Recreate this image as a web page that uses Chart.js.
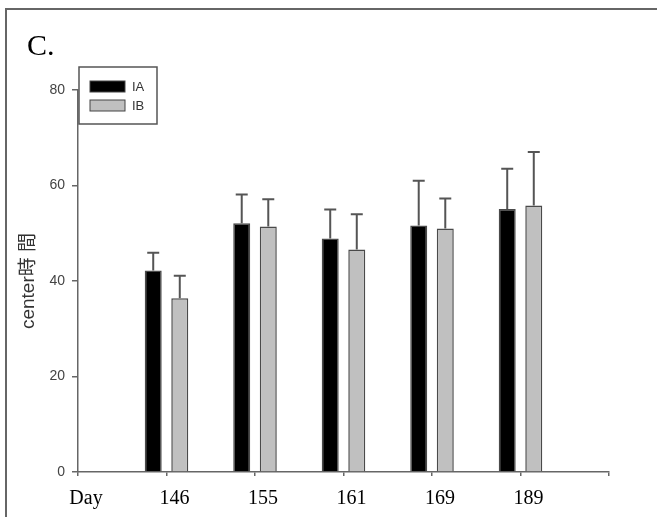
<!DOCTYPE html>
<html>
<head>
<meta charset="utf-8">
<script src="https://cdn.jsdelivr.net/npm/chart.js@4.4.1/dist/chart.umd.min.js"></script>
<style>
  html, body { margin: 0; padding: 0; background: #fff; }
</style>
</head>
<body>
<canvas id="dayChart" width="657" height="517"></canvas>
<script>
// --- dados ---
const days = ['146', '155', '161', '169', '189'];
const meanIA = [42.2, 52.1, 48.9, 51.6, 55.1];
const sdIA   = [3.7, 6.0, 6.1, 9.4, 8.4];
const meanIB = [36.4, 51.4, 46.6, 51.0, 55.8];
const sdIB   = [4.7, 5.7, 7.4, 6.3, 11.2];
const yTicks = [0, 20, 40, 60, 80];

// 'Day' sits at the origin, one empty slot at the far end
const labels = ['Day', ...days, ''];
const pad = arr => [null, ...arr, null];
const sds = [pad(sdIA), pad(sdIB)];

// error bars (upper only)
const errorBars = {
    id: 'errorBars',
    afterDatasetsDraw(chart) {
        const { ctx, scales: { y } } = chart;
        ctx.save();
        ctx.strokeStyle = '#555';
        ctx.lineWidth = 2;
        chart.data.datasets.forEach((ds, i) => {
            chart.getDatasetMeta(i).data.forEach((bar, j) => {
                const v = ds.data[j], e = sds[i][j];
                if (v == null || e == null) return;
                const top = y.getPixelForValue(v + e);
                ctx.beginPath();
                ctx.moveTo(bar.x, bar.y);
                ctx.lineTo(bar.x, top);
                ctx.moveTo(bar.x - 6, top);
                ctx.lineTo(bar.x + 6, top);
                ctx.stroke();
            });
        });
        ctx.restore();
    }
};

// frame, panel letter and boxed legend
const decor = {
    id: 'decor',
    afterDraw(chart) {
        const { ctx, chartArea } = chart;
        ctx.save();
        ctx.strokeStyle = '#666';
        ctx.lineWidth = 2;
        ctx.beginPath();
        ctx.moveTo(6, 517);
        ctx.lineTo(6, 9);
        ctx.lineTo(657, 9);
        ctx.stroke();

        ctx.fillStyle = '#000';
        ctx.font = '30px "Liberation Serif", "Times New Roman", serif';
        ctx.textBaseline = 'alphabetic';
        ctx.fillText('C.', 27, 55);

        // legend box
        const lx = chartArea.left + 1, ly = 67;
        ctx.fillStyle = '#fff';
        ctx.fillRect(lx, ly, 78, 57);
        ctx.strokeStyle = '#555';
        ctx.lineWidth = 1.5;
        ctx.strokeRect(lx, ly, 78, 57);
        ctx.font = '13px "Liberation Sans", Arial, sans-serif';
        ctx.textBaseline = 'middle';
        chart.data.datasets.forEach((ds, i) => {
            const sy = ly + 14 + i * 19;
            ctx.fillStyle = ds.backgroundColor;
            ctx.fillRect(lx + 11, sy, 35, 11);
            ctx.strokeStyle = '#444';
            ctx.lineWidth = 1;
            ctx.strokeRect(lx + 11, sy, 35, 11);
            ctx.fillStyle = '#333';
            ctx.fillText(ds.label, lx + 53, sy + 6);
        });
        ctx.restore();
    }
};

new Chart(document.getElementById('dayChart'), {
    type: 'bar',
    data: {
        labels: labels,
        datasets: [
            { label: 'IA', data: pad(meanIA), backgroundColor: '#000000', borderColor: '#4a4a4a', borderWidth: 1.5 },
            { label: 'IB', data: pad(meanIB), backgroundColor: '#c0c0c0', borderColor: '#4a4a4a', borderWidth: 1.5 }
        ]
    },
    options: {
        responsive: false, animation: false,
        categoryPercentage: 0.6, barPercentage: 0.64,
        layout: { padding: { left: 0, top: 90, right: 48, bottom: 0 } },
        plugins: { legend: { display: false }, tooltip: { enabled: false } },
        scales: {
            x: {
                type: 'category', offset: false,
                grid: { offset: false, drawOnChartArea: false, tickLength: 4, color: '#666', lineWidth: 1.5 },
                border: { color: '#666', width: 1.5 },
                ticks: {
                    autoSkip: false, maxRotation: 0, labelOffset: 8, padding: 11, color: '#000',
                    font: { family: '"Liberation Serif", "Times New Roman", serif', size: 20 }
                },
                afterFit: s => { s.height = 45; }
            },
            y: {
                min: 0, max: 80,
                afterBuildTicks: s => { s.ticks = yTicks.map(v => ({ value: v })); },
                grid: { drawOnChartArea: false, tickLength: 6, color: '#666', lineWidth: 1.5 },
                border: { color: '#666', width: 1.5 },
                ticks: { padding: 7, color: '#444', font: { family: '"Liberation Sans", Arial, sans-serif', size: 14 } },
                title: {
                    display: true, text: 'center時 間', color: '#333', padding: { top: 17, bottom: 0 },
                    font: { family: '"Liberation Sans", Arial, "Noto Sans CJK TC", sans-serif', size: 19 }
                },
                afterFit: s => { s.width = 78; }
            }
        }
    },
    plugins: [errorBars, decor]
});
</script>
</body>
</html>
